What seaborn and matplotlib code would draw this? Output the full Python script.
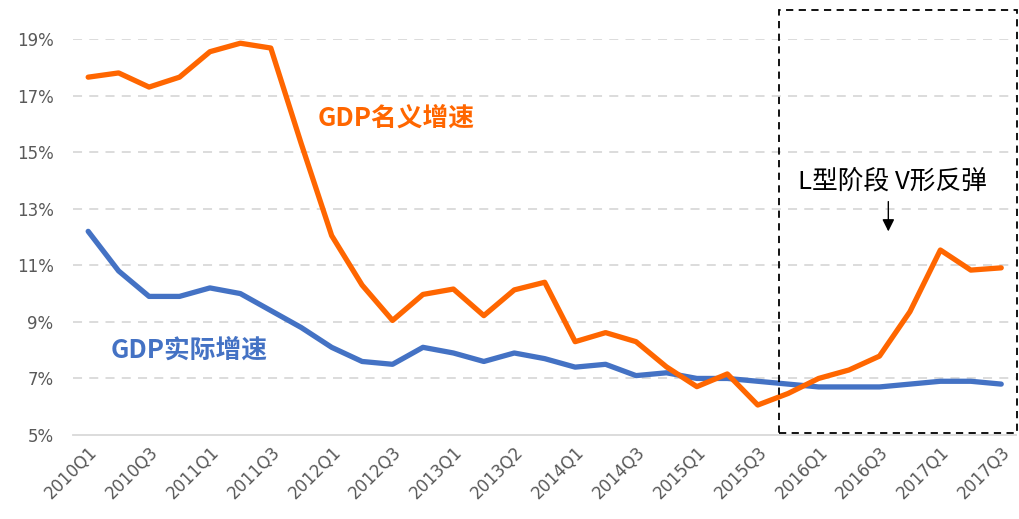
import matplotlib
matplotlib.use("Agg")
import matplotlib.pyplot as plt
from matplotlib.patches import Rectangle
import seaborn as sns
import pandas as pd

sns.set_style("white")
plt.rcParams['font.family'] = ['Noto Sans CJK SC', 'DejaVu Sans']

# quarterly growth rates, %
quarters = ['2010Q1', '2010Q2', '2010Q3', '2010Q4', '2011Q1', '2011Q2', '2011Q3', '2011Q4',
            '2012Q1', '2012Q2', '2012Q3', '2012Q4', '2013Q1', '2013Q2', '2013Q3', '2013Q4',
            '2014Q1', '2014Q2', '2014Q3', '2014Q4', '2015Q1', '2015Q2', '2015Q3', '2015Q4',
            '2016Q1', '2016Q2', '2016Q3', '2016Q4', '2017Q1', '2017Q2', '2017Q3']
nominal = [17.65, 17.8, 17.3, 17.65, 18.55, 18.85, 18.68, 15.3, 12.05,
           10.3, 9.05, 9.97, 10.16, 9.22, 10.13, 10.4, 8.3, 8.62, 8.3, 7.41,
           6.71, 7.16, 6.06, 6.47, 7.0, 7.3, 7.79, 9.36, 11.54, 10.83, 10.91]
real = [12.2, 10.8, 9.9, 9.9, 10.2, 10.0, 9.4, 8.8, 8.1, 7.6, 7.5, 8.1,
        7.9, 7.6, 7.9, 7.7, 7.4, 7.5, 7.1, 7.2, 7.0, 7.0, 6.9, 6.8,
        6.7, 6.7, 6.7, 6.8, 6.9, 6.9, 6.8]
tick_labels = ['2010Q1', '2010Q3', '2011Q1', '2011Q3', '2012Q1', '2012Q3', '2013Q1', '2013Q2',
               '2014Q1', '2014Q3', '2015Q1', '2015Q3', '2016Q1', '2016Q3', '2017Q1', '2017Q3']
y_ticks = [5, 7, 9, 11, 13, 15, 17, 19]

orange = '#FF6600'
blue = '#4472C4'

df = pd.DataFrame({'idx': range(len(quarters)), 'q': quarters,
                   'nominal': nominal, 'real': real})

fig = plt.figure(figsize=(10.19, 5.19), dpi=100)
ax = fig.add_axes([0.0716, 0.1618, 0.9259, 0.7631])

sns.lineplot(data=df, x='idx', y='real', ax=ax, color=blue, linewidth=3.8,
             solid_capstyle='round', zorder=3)
sns.lineplot(data=df, x='idx', y='nominal', ax=ax, color=orange, linewidth=3.8,
             solid_capstyle='round', zorder=4)

ax.set_xlim(-0.5, len(quarters) - 0.5)
ax.set_ylim(5, 19)
ax.set_yticks(y_ticks)
ax.set_yticklabels(['%d%%' % v for v in y_ticks], color='#595959', fontsize=12,
                   family='DejaVu Sans')
ax.set_xticks(range(0, len(quarters), 2))
ax.set_xticklabels(tick_labels, rotation=45, ha='right', rotation_mode='anchor',
                   color='#595959', fontsize=12, family='DejaVu Sans')
ax.tick_params(axis='both', length=0)
ax.tick_params(axis='y', pad=14)
ax.tick_params(axis='x', pad=6)
ax.set_xlabel('')
ax.set_ylabel('')

for v in y_ticks[1:]:
    ax.axhline(v, color='#d9d9d9', linewidth=1.3, linestyle=(0, (5, 4)), zorder=1)
for s in ['top', 'right', 'left']:
    ax.spines[s].set_visible(False)
ax.spines['bottom'].set_color('#d9d9d9')
ax.spines['bottom'].set_linewidth(1.3)

ax.text(10.12, 16.2, 'GDP名义增速', color=orange, fontsize=18.5, fontweight='bold',
        ha='center', va='center')
ax.text(3.32, 8.0, 'GDP实际增速', color=blue, fontsize=18.5, fontweight='bold',
        ha='center', va='center')
ax.text(26.42, 13.95, 'L型阶段 V形反弹', color='black', fontsize=18.5,
        fontweight='medium', ha='center', va='center')
ax.annotate('', xy=(26.29, 12.1), xytext=(26.29, 13.35),
            arrowprops=dict(arrowstyle='-|>', color='black', lw=1, mutation_scale=18))

box = Rectangle((22.7, 5.06), 7.83, 14.95, fill=False, edgecolor='black',
                linewidth=1.3, linestyle=(0, (4, 3)), clip_on=False, zorder=5)
ax.add_patch(box)

fig.savefig('out.png', dpi=100)
